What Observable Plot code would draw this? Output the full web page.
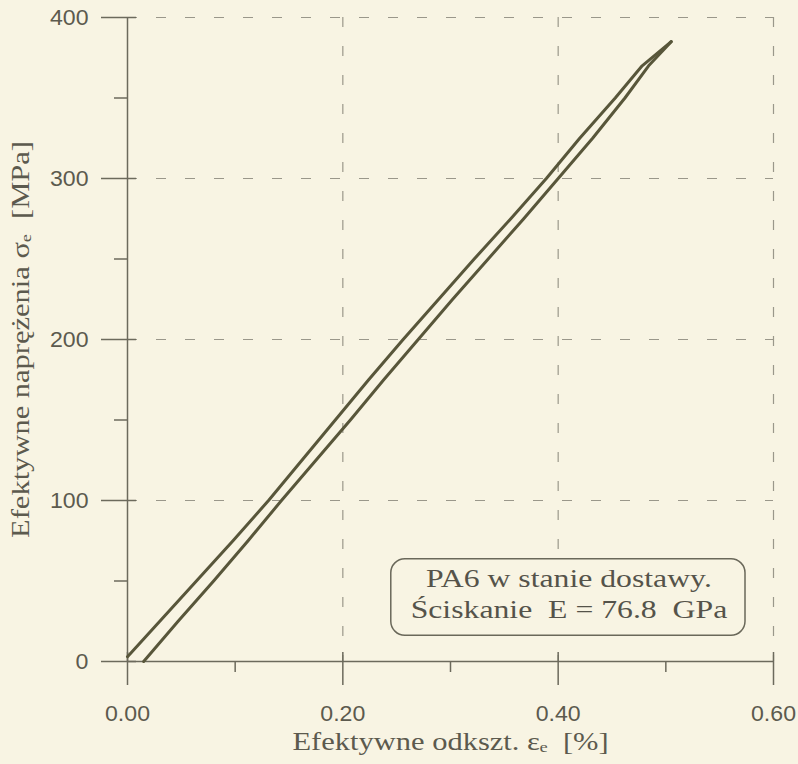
<!DOCTYPE html>
<html>
<head>
<meta charset="utf-8">
<script src="https://cdn.jsdelivr.net/npm/d3@7"></script>
<script src="https://cdn.jsdelivr.net/npm/@observablehq/plot@0.6"></script>
<style>
  html, body { margin: 0; padding: 0; background: #f8f4e3; }
  #chart svg { display: block; }
</style>
</head>
<body>
<div id="chart"></div>
<script>
// ---- data ----
const loadStress   = [3, 25, 50, 75, 100, 125, 150, 175, 200, 225, 250, 275, 300, 325, 350, 370, 385];
const loadStrain   = [0.000, 0.030, 0.064, 0.098, 0.131, 0.162, 0.193, 0.224, 0.256, 0.289, 0.322, 0.356, 0.389, 0.420, 0.453, 0.478, 0.505];
const unloadStress = [385, 370, 350, 325, 300, 275, 250, 225, 200, 175, 150, 125, 100, 75, 50, 25, 0];
const unloadStrain = [0.505, 0.484, 0.462, 0.432, 0.400, 0.368, 0.335, 0.302, 0.270, 0.238, 0.207, 0.175, 0.143, 0.112, 0.080, 0.047, 0.015];

const xMajorTicks = [0.0, 0.2, 0.4, 0.6];
const xMinorTicks = [0.1, 0.3, 0.5];
const yMajorTicks = [0, 100, 200, 300, 400];
const yMinorTicks = [50, 150, 250, 350];
const xGrid = [0.2, 0.4, 0.6];
const yGrid = [100, 200, 300, 400];

const xLabel = "Efektywne odkszt. εₑ  [%]";
const yLabel = "Efektywne naprężenia σₑ  [MPa]";
const noteLines = ["PA6 w stanie dostawy.", "Ściskanie  E = 76.8  GPa"];
const noteBox = [{x1: 0.245, x2: 0.574, y1: 16, y2: 63.5}];
const noteText = [{x: 0.41, y: 51.2, t: noteLines[0]}, {x: 0.41, y: 32.2, t: noteLines[1]}];

const curve = [
  ...loadStrain.map((x, i) => ({x, y: loadStress[i], s: "load"})),
  ...unloadStrain.map((x, i) => ({x, y: unloadStress[i], s: "unload"}))
];

// ---- layout ----
const W = 798, H = 764, mL = 127, mR = 25, mT = 17, mB = 103;
const fw = W - mL - mR, fh = H - mT - mB;
const axisCol = "#6c6a5c", gridCol = "#9a978a", textCol = "#5c5a4e", curveCol = "#58563a";
const serif = "Liberation Serif, Times New Roman, serif";
const sans = "Liberation Sans, Arial, sans-serif";

const chart = Plot.plot({
  width: W, height: H,
  marginLeft: mL, marginRight: mR, marginTop: mT, marginBottom: mB,
  style: {background: "#f8f4e3", color: textCol},
  x: {domain: [0, 0.6], axis: null},
  y: {domain: [0, 400], axis: null},
  marks: [
    // dashed grid
    Plot.ruleX(xGrid, {stroke: gridCol, strokeWidth: 1.2, strokeDasharray: "10,19"}),
    Plot.ruleY(yGrid, {stroke: gridCol, strokeWidth: 1.2, strokeDasharray: "10,19"}),
    // axis lines
    Plot.ruleX([0], {stroke: axisCol, strokeWidth: 1.5}),
    Plot.ruleY([0], {stroke: axisCol, strokeWidth: 1.5}),
    // x ticks
    Plot.ruleX(xMajorTicks, {stroke: axisCol, strokeWidth: 1.5, insetTop: fh - 9, insetBottom: -24}),
    Plot.ruleX(xMinorTicks, {stroke: axisCol, strokeWidth: 1.5, insetTop: fh, insetBottom: -11}),
    // y ticks
    Plot.ruleY(yMajorTicks, {stroke: axisCol, strokeWidth: 1.5, insetLeft: -26, insetRight: fw - 9}),
    Plot.ruleY(yMinorTicks, {stroke: axisCol, strokeWidth: 1.5, insetLeft: -13, insetRight: fw}),
    // tick labels
    Plot.axisX(xMajorTicks, {tickSize: 0, tickPadding: 44, tickFormat: d3.format(".2f"),
      fontSize: 22, fontFamily: sans, fill: textCol}),
    Plot.axisY(yMajorTicks, {tickSize: 0, tickPadding: 39, tickFormat: d3.format("d"),
      fontSize: 22, fontFamily: sans, fill: textCol}),
    // axis titles
    Plot.text([xLabel], {frameAnchor: "bottom", dy: 88, text: d => d, fontSize: 25,
      fontFamily: serif, fill: textCol}),
    Plot.text([yLabel], {frameAnchor: "left", textAnchor: "middle", dx: -107, rotate: -90, text: d => d, fontSize: 25,
      fontFamily: serif, fill: textCol}),
    // curve
    Plot.line(curve, {x: "x", y: "y", z: "s", stroke: curveCol, strokeWidth: 3, curve: "linear"}),
    // annotation
    Plot.rect(noteBox, {x1: "x1", x2: "x2", y1: "y1", y2: "y2", rx: 14, fill: "#f8f4e3", stroke: "#6a685a", strokeWidth: 1.5}),
    Plot.text(noteText, {x: "x", y: "y", text: "t", fontSize: 26,
      fontFamily: serif, fill: "#55534a"})
  ]
});
document.getElementById("chart").appendChild(chart);

// the reference glyphs are drawn slightly wide: stretch text along its baseline
function stretch(selector, factor) {
  chart.querySelectorAll(selector).forEach(t => {
    const len = t.getComputedTextLength();
    t.setAttribute("textLength", (len * factor).toFixed(1));
    t.setAttribute("lengthAdjust", "spacingAndGlyphs");
  });
}
stretch('g[aria-label="x-axis tick label"] text, g[aria-label="y-axis tick label"] text', 1.05);
stretch('g[aria-label="text"] text', 1.22);
</script>
</body>
</html>
